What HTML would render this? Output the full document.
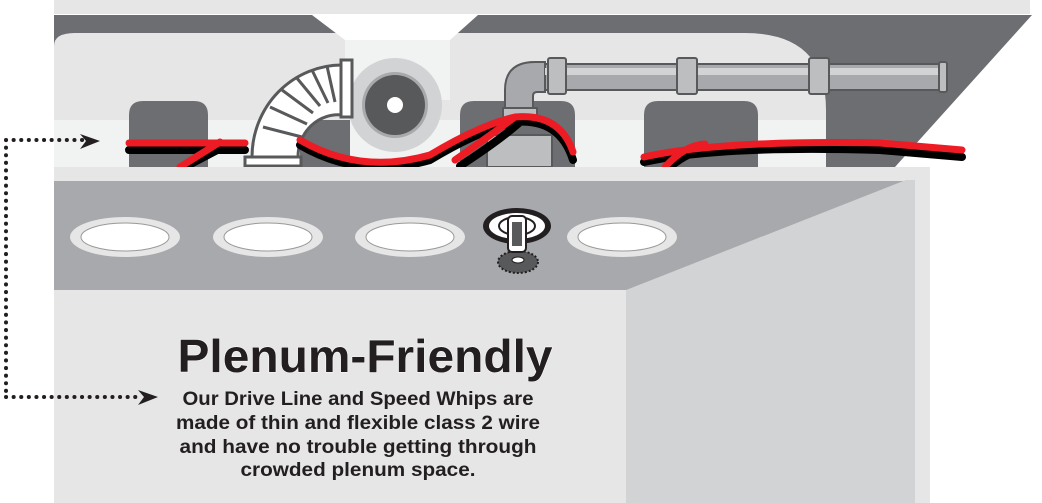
<!DOCTYPE html>
<html><head><meta charset="utf-8"><style>html,body{margin:0;padding:0;background:#fff;}svg{display:block}</style></head>
<body>
<svg width="1042" height="503" viewBox="0 0 1042 503" xmlns="http://www.w3.org/2000/svg">
<rect x="54" y="0" width="976" height="14" fill="#e6e6e6"/>
<polygon points="54,15 1032,15 895,167 54,167" fill="#6d6e71"/>
<path d="M54,46 Q54,33 75,33 L745,33 Q826,33 826,110 L826,167 L54,167 Z" fill="#e6e6e6"/>
<rect x="54" y="120" width="772" height="47" fill="#f1f2f2"/>
<polygon points="312,15 478,15 450,40 345,40" fill="#fff"/>
<rect x="345" y="40" width="105" height="60" fill="#f1f2f2"/>
<path d="M129,167 L129,115 Q129,101 143,101 L194,101 Q208,101 208,115 L208,167 Z" fill="#6d6e71"/>
<path d="M460,167 L460,115 Q460,101 474,101 L561,101 Q575,101 575,115 L575,167 Z" fill="#6d6e71"/>
<path d="M644,167 L644,115 Q644,101 658,101 L744,101 Q758,101 758,115 L758,167 Z" fill="#6d6e71"/>
<rect x="300" y="120" width="50" height="47" fill="#6d6e71"/>
<circle cx="395" cy="105" r="47" fill="#d1d3d4"/>
<circle cx="395" cy="105" r="33" fill="#a7a9ac"/>
<circle cx="395" cy="105" r="30" fill="#58595b"/>
<circle cx="395" cy="105" r="8" fill="#fff"/>
<g stroke="#58595b" stroke-width="3" fill="#fff">
<path d="M252,157 A90,92 0 0 1 342,65 L342,115 A40,42 0 0 0 298,157 Z"/>
<g stroke-width="3">
<line x1="263" y1="127" x2="302" y2="137"/><line x1="270" y1="107" x2="307" y2="124"/><line x1="282" y1="90" x2="313" y2="113"/><line x1="296" y1="77" x2="320" y2="106"/><line x1="312" y1="70" x2="328" y2="103"/><line x1="327" y1="66" x2="335" y2="102"/>
</g>
<rect x="245" y="157" width="56" height="9"/>
<rect x="341" y="60" width="11" height="57"/>
</g>
<g stroke="#58595b" stroke-width="2">
<path d="M505,110 L505,90 Q505,62 535,62 L545,62 L545,92 L537,92 Q533,92 533,96 L533,110 Z" fill="#a7a9ac"/>
<rect x="545" y="64" width="400" height="26" fill="#a7a9ac"/>
<rect x="545" y="68" width="400" height="7" fill="#d1d3d4" stroke="none"/>
<rect x="548" y="58" width="18" height="36" rx="2" fill="#bcbec0"/>
<rect x="677" y="58" width="20" height="36" rx="2" fill="#bcbec0"/>
<rect x="809" y="58" width="20" height="36" rx="2" fill="#bcbec0"/>
<rect x="939" y="62" width="8" height="30" rx="2" fill="#bcbec0"/>
<rect x="503" y="108" width="34" height="12" fill="#bcbec0"/>
<rect x="487" y="135" width="65" height="32" fill="#bcbec0"/>
</g>
<g fill="none" stroke-linecap="round">
<path d="M129,150 L245,150 M185,167 L225,146 M300,145 Q360,180 430,160 Q480,130 515,122 Q560,118 573,160 M460,166 Q500,140 520,122 M644,162 Q720,145 880,150 L962,157 M670,167 Q690,150 710,149" stroke="#000" stroke-width="8"/>
<path d="M129,143 L245,143 M180,167 L220,142 M300,140 Q360,175 430,155 Q480,125 515,117 Q560,113 573,152 M455,160 Q495,132 515,117 M644,157 Q720,140 880,143 L962,150 M665,167 Q685,145 705,144" stroke="#ed1c24" stroke-width="7"/>
</g>
<rect x="54" y="167" width="876" height="14" fill="#e6e6e6"/>
<rect x="54" y="181" width="861" height="110" fill="#a7a9ac"/>
<rect x="54" y="290" width="572" height="213" fill="#e6e6e6"/>
<polygon points="906,180 915,180 915,503 626,503 626,290" fill="#d1d3d4"/>
<rect x="915" y="181" width="15" height="322" fill="#e6e6e6"/>
<g>
<ellipse cx="125" cy="237" rx="55" ry="20" fill="#e6e6e6"/><ellipse cx="125" cy="237" rx="44" ry="14" fill="#fff" stroke="#999" stroke-width="1"/>
<ellipse cx="268" cy="237" rx="55" ry="20" fill="#e6e6e6"/><ellipse cx="268" cy="237" rx="44" ry="14" fill="#fff" stroke="#999" stroke-width="1"/>
<ellipse cx="410" cy="237" rx="55" ry="20" fill="#e6e6e6"/><ellipse cx="410" cy="237" rx="44" ry="14" fill="#fff" stroke="#999" stroke-width="1"/>
<ellipse cx="622" cy="237" rx="55" ry="20" fill="#e6e6e6"/><ellipse cx="622" cy="237" rx="44" ry="14" fill="#fff" stroke="#999" stroke-width="1"/>
</g>
<g>
<ellipse cx="517" cy="226" rx="34" ry="18" fill="#231f20"/>
<ellipse cx="517" cy="226" rx="28" ry="13" fill="#fff"/>
<ellipse cx="517" cy="226" rx="18" ry="9" fill="none" stroke="#231f20" stroke-width="2"/>
<ellipse cx="518" cy="262" rx="20" ry="11" fill="#58595b" stroke="#231f20" stroke-width="2" stroke-dasharray="2 2"/>
<rect x="508" y="216" width="18" height="36" rx="4" fill="#fff" stroke="#231f20" stroke-width="2"/>
<rect x="512" y="222" width="10" height="24" fill="#58595b"/>
<ellipse cx="518" cy="260" rx="6" ry="3" fill="#fff" stroke="#231f20"/>
</g>
<g fill="#231f20">
<path d="M6,140 L86,140 M6,140 L6,397 M6,397 L140,397" stroke="#231f20" stroke-width="4" stroke-dasharray="0.1 7.5" stroke-linecap="round" fill="none"/>
<polygon points="80,134 100,141 80,149 86,141"/>
<polygon points="138,390 158,397 138,405 144,397"/>
</g>
<g font-family="Liberation Sans, sans-serif" font-weight="bold" fill="#231f20" text-anchor="middle">
<text x="365" y="372" font-size="46" textLength="375" lengthAdjust="spacingAndGlyphs" stroke="#fff" stroke-width="1" paint-order="stroke">Plenum-Friendly</text>
<text x="358" y="405" font-size="19" textLength="351" lengthAdjust="spacingAndGlyphs">Our Drive Line and Speed Whips are</text>
<text x="358" y="429" font-size="19" textLength="364" lengthAdjust="spacingAndGlyphs">made of thin and flexible class 2 wire</text>
<text x="358" y="453" font-size="19" textLength="357" lengthAdjust="spacingAndGlyphs">and have no trouble getting through</text>
<text x="358" y="476" font-size="19" textLength="235" lengthAdjust="spacingAndGlyphs">crowded plenum space.</text>
</g>
</svg>
</body></html>
